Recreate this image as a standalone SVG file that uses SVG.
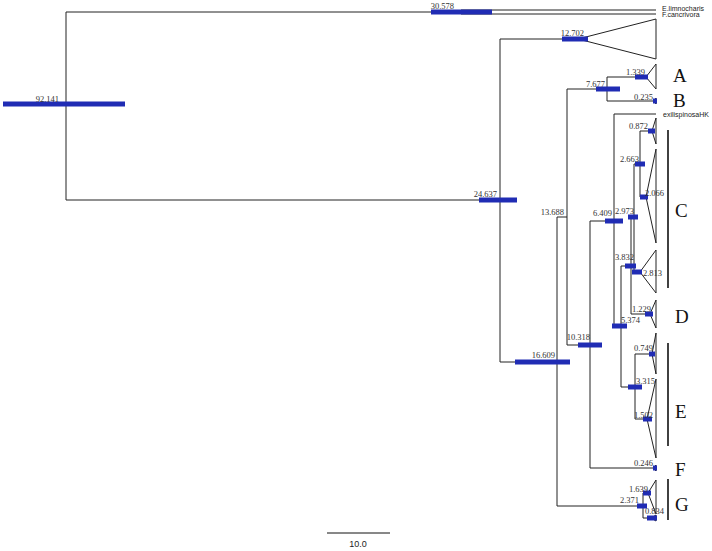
<svg xmlns="http://www.w3.org/2000/svg" width="712" height="551" viewBox="0 0 712 551">
<style>
.br{fill:none;stroke:#222;stroke-width:1}
.tri{fill:none;stroke:#222;stroke-width:1}
.bar{fill:#202cb4}
.nl{font-family:"Liberation Serif",serif;font-size:8.5px;fill:#333;text-anchor:end}
.tl{font-family:"Liberation Sans",sans-serif;font-size:7px;fill:#222}
.grp{font-family:"Liberation Serif",serif;font-size:19px;fill:#111}
.gb{stroke:#111;stroke-width:1.6}
</style>
<rect width="712" height="551" fill="#fff"/>
<g id="connectors">
<path class="br" d="M66,12V200M66,12H461M66,200H500"/>
<path class="br" d="M461,10V14M461,10H656M461,14H656"/>
<path class="br" d="M500,39V362M500,39H578M500,362H557"/>
<path class="br" d="M557,217V506M557,217H567M557,506H643"/>
<path class="br" d="M567,89V345M567,89H607M567,345H590"/>
<path class="br" d="M607,77V101M607,77H646M607,101H654"/>
<path class="br" d="M590,221V468M590,221H614M590,468H653"/>
<path class="br" d="M614,114V326M614,114H656M614,326H621"/>
<path class="br" d="M621,266V387M621,266H631M621,387H635"/>
<path class="br" d="M631,217V314M631,217H634M631,314H650"/>
<path class="br" d="M634,164V272M634,164H640M634,272H640"/>
<path class="br" d="M640,131V197M640,131H652M640,197H646"/>
<path class="br" d="M635,354V419M635,354H652M635,419H647"/>
<path class="br" d="M643,493V518M643,493H648M643,518H651"/>
</g>
<g id="tip-limnocharis"><text class="tl" x="662" y="10.5" font-size="6.3">E.limnocharis</text></g>
<g id="tip-cancrivora"><text class="tl" x="662" y="17" font-size="6.3">F.cancrivora</text></g>
<g id="tip-exilispinosaHK"><text class="tl" x="663" y="117">exilispinosaHK</text></g>
<g id="clade-12702"><polygon class="tri" points="578,39 656,19 656,59"/><rect class="bar" x="562" y="36.5" width="26" height="5"/><text class="nl" x="584" y="36">12.702</text></g>
<g id="clade-A"><polygon class="tri" points="646,77 656,64 656,89"/><rect class="bar" x="635" y="74.5" width="13" height="5"/><text class="nl" x="645" y="75">1.339</text></g>
<g id="clade-B"><polygon class="tri" points="654,101 656,98 656,104"/><rect class="bar" x="653" y="98.5" width="4" height="5"/><text class="nl" x="653" y="100">0.235</text></g>
<g id="clade-0872"><polygon class="tri" points="652,131 656,118 656,144"/><rect class="bar" x="648" y="128.5" width="7" height="5"/><text class="nl" x="648" y="129">0.872</text></g>
<g id="clade-2066"><polygon class="tri" points="646,197 656,149 656,243"/><rect class="bar" x="640" y="194.5" width="8" height="5"/><text class="nl" x="664" y="196">2.066</text></g>
<g id="clade-2813"><polygon class="tri" points="640,272 656,250 656,293"/><rect class="bar" x="632" y="269.5" width="10" height="5"/><text class="nl" x="662" y="276">2.813</text></g>
<g id="clade-D"><polygon class="tri" points="650,314 656,300 656,328"/><rect class="bar" x="645" y="311.5" width="8" height="5"/><text class="nl" x="651" y="312">1.229</text></g>
<g id="clade-0749"><polygon class="tri" points="652,354 656,333 656,374"/><rect class="bar" x="649" y="351.5" width="6" height="5"/><text class="nl" x="653" y="351">0.749</text></g>
<g id="clade-1502"><polygon class="tri" points="647,419 656,379 656,458"/><rect class="bar" x="643" y="416.5" width="9" height="5"/><text class="nl" x="653" y="418">1.502</text></g>
<g id="clade-F"><polygon class="tri" points="653,468 656,465 656,471"/><rect class="bar" x="653" y="465.5" width="4" height="5"/><text class="nl" x="653" y="466">0.246</text></g>
<g id="clade-1639"><polygon class="tri" points="648,493 656,480 656,514"/><rect class="bar" x="643" y="490.5" width="8" height="5"/><text class="nl" x="648" y="492">1.639</text></g>
<g id="clade-0834"><polygon class="tri" points="651,518 656,515 656,521"/><rect class="bar" x="647" y="515.5" width="10" height="5"/><text class="nl" x="664" y="514">0.834</text></g>
<g id="node-92141"><rect class="bar" x="3" y="101.5" width="122" height="5"/><text class="nl" x="59" y="102">92.141</text></g>
<g id="node-30578"><rect class="bar" x="431" y="9.5" width="61" height="5"/><text class="nl" x="454" y="9">30.578</text></g>
<g id="node-24637"><rect class="bar" x="479" y="197.5" width="38" height="5"/><text class="nl" x="497" y="197">24.637</text></g>
<g id="node-16609"><rect class="bar" x="515" y="359.5" width="55" height="5"/><text class="nl" x="555" y="358">16.609</text></g>
<g id="node-13688"><text class="nl" x="564" y="215">13.688</text></g>
<g id="node-7677"><rect class="bar" x="596" y="86.5" width="24" height="5"/><text class="nl" x="605" y="87">7.677</text></g>
<g id="node-10318"><rect class="bar" x="578" y="342.5" width="24" height="5"/><text class="nl" x="590" y="340">10.318</text></g>
<g id="node-6409"><rect class="bar" x="605" y="218.5" width="18" height="5"/><text class="nl" x="612" y="216">6.409</text></g>
<g id="node-5374"><rect class="bar" x="612" y="323.5" width="15" height="5"/><text class="nl" x="640" y="323">5.374</text></g>
<g id="node-3832"><rect class="bar" x="625" y="263.5" width="11" height="5"/><text class="nl" x="634" y="260">3.832</text></g>
<g id="node-2973"><rect class="bar" x="628" y="214.5" width="10" height="5"/><text class="nl" x="634" y="214">2.973</text></g>
<g id="node-2663"><rect class="bar" x="635" y="161.5" width="10" height="5"/><text class="nl" x="639" y="162">2.663</text></g>
<g id="node-3315"><rect class="bar" x="628" y="384.5" width="14" height="5"/><text class="nl" x="655" y="384">3.315</text></g>
<g id="node-2371"><rect class="bar" x="637" y="503.5" width="10" height="5"/><text class="nl" x="639" y="503">2.371</text></g>
<g id="group-labels">
<text class="grp" x="673" y="82">A</text>
<text class="grp" x="673" y="107">B</text>
<line class="gb" x1="668" y1="130" x2="668" y2="288"/>
<text class="grp" x="675" y="217">C</text>
<text class="grp" x="675" y="323">D</text>
<line class="gb" x1="668" y1="343" x2="668" y2="446"/>
<text class="grp" x="675" y="418">E</text>
<text class="grp" x="675" y="476">F</text>
<line class="gb" x1="668" y1="479" x2="668" y2="520"/>
<text class="grp" x="675" y="511">G</text>
</g>
<g id="scale-bar">
<line x1="327" y1="533" x2="390" y2="533" stroke="#111" stroke-width="1"/>
<text x="358" y="547" font-family="Liberation Sans, sans-serif" font-size="9" fill="#222" text-anchor="middle">10.0</text>
</g>
</svg>
